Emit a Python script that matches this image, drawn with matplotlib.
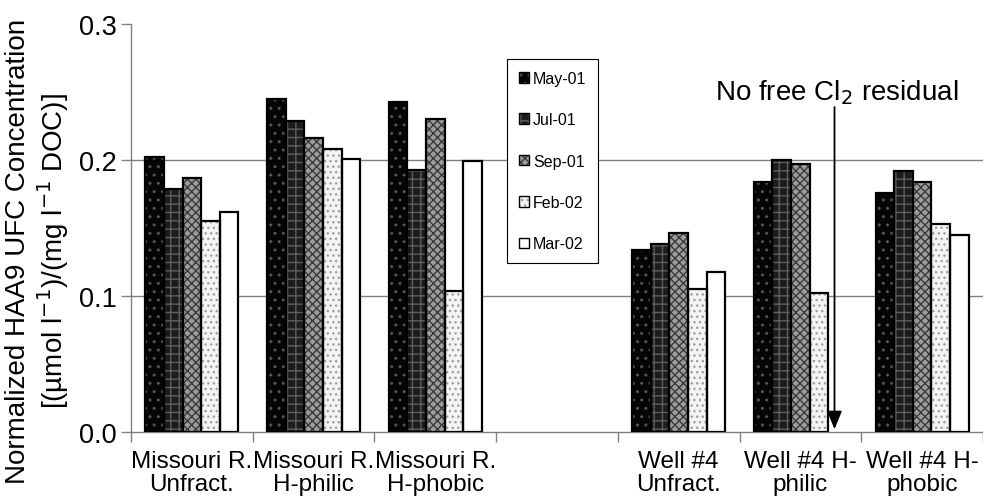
import numpy as np
import matplotlib.pyplot as plt
from matplotlib.patches import Patch
from matplotlib.legend_handler import HandlerTuple

plt.rcParams['font.family'] = ['Liberation Sans', 'DejaVu Sans']

# data
categories = ["Missouri R.\nUnfract.", "Missouri R.\nH-philic", "Missouri R.\nH-phobic", "",
              "Well #4\nUnfract.", "Well #4 H-\nphilic", "Well #4 H-\nphobic"]
months = ["May-01", "Jul-01", "Sep-01", "Feb-02", "Mar-02"]
may01 = [0.202, 0.245, 0.243, np.nan, 0.134, 0.184, 0.176]
jul01 = [0.179, 0.229, 0.193, np.nan, 0.138, 0.200, 0.192]
sep01 = [0.187, 0.216, 0.230, np.nan, 0.146, 0.197, 0.184]
feb02 = [0.155, 0.208, 0.1035, np.nan, 0.105, 0.102, 0.153]
mar02 = [0.162, 0.201, 0.1995, np.nan, 0.118, np.nan, 0.145]
series = [may01, jul01, sep01, feb02, mar02]

# fill colour, hatch, hatch colour
styles = [("#050505", "..", "#555555"),
          ("#1c1c1c", "++", "#5e5e5e"),
          ("#9c9c9c", "xxxx", "#3a3a3a"),
          ("#f4f4f4", "...", "#a0a0a0"),
          ("white", "", "white")]

fig = plt.figure(figsize=(9.83, 5.02), dpi=100)
ax = fig.add_axes([131/983, 1-433/502, 1-131/983, (433-25)/502])

x = np.arange(len(categories))
w = 0.153
handles = []
for i, (vals, (fc, hatch, hc)) in enumerate(zip(series, styles)):
    pos = x + (i - 2) * w
    ax.bar(pos, vals, w, color=fc, hatch=hatch, edgecolor=hc, linewidth=0, zorder=2)
    ax.bar(pos, vals, w, fill=False, edgecolor="black", linewidth=1.6, zorder=3)
    handles.append((Patch(facecolor=fc, hatch=hatch, edgecolor=hc, linewidth=0),
                    Patch(fill=False, edgecolor="black", linewidth=1.0)))

ax.set_ylim(0, 0.3)
ax.set_xlim(-0.5, 6.5)
ax.set_yticks([0.0, 0.1, 0.2, 0.3])
ax.set_yticklabels(["0.0", "0.1", "0.2", "0.3"], fontsize=19.5)
ax.set_xticks(x)
ax.set_xticklabels(categories, fontsize=17.5, linespacing=1.05)
ax.tick_params(axis='x', length=0, pad=13)
ax.set_xticks(np.arange(-0.5, 7, 1), minor=True)
ax.tick_params(axis='x', which='minor', length=7, color='#808080', width=1)
ax.tick_params(axis='y', length=7, color='#808080', width=1, pad=3)

for y in [0.1, 0.2]:
    ax.axhline(y, color='#808080', linewidth=1, zorder=1)

for s in ['top', 'right']:
    ax.spines[s].set_visible(False)
for s in ['left', 'bottom']:
    ax.spines[s].set_color('#808080')
    ax.spines[s].set_linewidth(1)

ax.set_ylabel("Normalized HAA9 UFC Concentration\n[(\u00b5mol l$^{-1}$)/(mg l$^{-1}$ DOC)]",
              fontsize=20, linespacing=1.15)
ax.yaxis.set_label_coords(-0.07, 0.446)

leg = ax.legend(handles, months, handler_map={tuple: HandlerTuple(ndivide=1, pad=0)},
                loc='upper left', bbox_to_anchor=(0.441, 0.914), borderaxespad=0,
                fancybox=False, edgecolor='black', framealpha=1, fontsize=11.5,
                handlelength=0.65, handleheight=0.65, handletextpad=0.25,
                labelspacing=1.65, borderpad=0.75)
leg.get_frame().set_linewidth(0.8)

ax.text(5.3, 0.25, "No free Cl$_2$ residual", fontsize=20, ha='center', va='center')
ax.annotate("", xy=(5.28, 0.0), xytext=(5.28, 0.241),
            arrowprops=dict(arrowstyle="-|>,head_length=1.1,head_width=0.45",
                            color='black', linewidth=1.3), zorder=5)

fig.savefig("out.png", dpi=100)
